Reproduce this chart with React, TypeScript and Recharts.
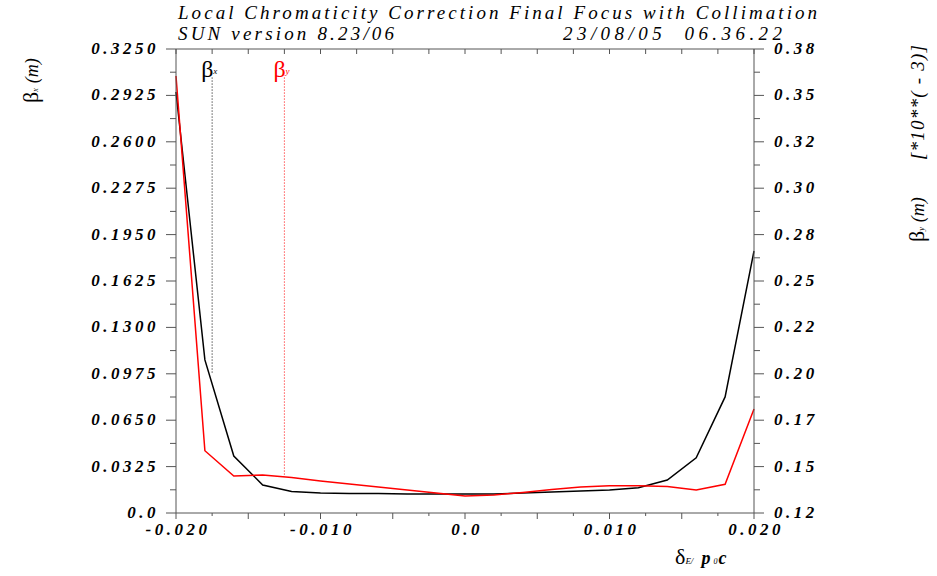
import React from 'react';
import { LineChart, Line, XAxis, YAxis, ReferenceLine } from 'recharts';

// delta E / p0c
const xValues = [
  -0.02, -0.018, -0.016, -0.014, -0.012, -0.01, -0.008, -0.006, -0.004, -0.002, 0,
  0.002, 0.004, 0.006, 0.008, 0.01, 0.012, 0.014, 0.016, 0.018, 0.02,
];
// beta x (m), left axis
const betaX = [
  0.2949, 0.1072, 0.0399, 0.0196, 0.0151, 0.014, 0.0137, 0.0137, 0.0133, 0.0133, 0.0133,
  0.0133, 0.014, 0.0147, 0.0154, 0.0161, 0.0177, 0.0231, 0.0387, 0.0813, 0.1835,
];
// beta y (m) [*10**(-3)], right axis
const betaY = [
  0.3649, 0.1549, 0.1407, 0.1413, 0.1399, 0.1379, 0.1362, 0.1346, 0.1329, 0.1312, 0.1295,
  0.1301, 0.1315, 0.1332, 0.1346, 0.1353, 0.1353, 0.1348, 0.1329, 0.1361, 0.1783,
];

const leftTickLabels = [
  '0.0', '0.0325', '0.0650', '0.0975', '0.1300', '0.1625',
  '0.1950', '0.2275', '0.2600', '0.2925', '0.3250',
];
const rightTickLabels = [
  '0.12', '0.15', '0.17', '0.20', '0.22', '0.25',
  '0.28', '0.30', '0.32', '0.35', '0.38',
];
const xTickLabels = ['-0.020', '-0.010', '0.0', '0.010', '0.020'];

// vertical markers (x position, top, bottom on left axis)
const markerNames = ['x', 'y'];
const markerX = [-0.0175, -0.0125];
const markerTop = [0.305, 0.305];
const markerBottom = [0.098, 0.0254];
const markerColors = ['#000000', '#ff0000'];

const data = xValues.map((x, i) => ({ x, bx: betaX[i], by: betaY[i] }));

const leftTicks = Array.from({ length: 21 }, (_, i) => (i * 0.325) / 20);
const rightTicks = Array.from({ length: 21 }, (_, i) => 0.12 + (i * 0.26) / 20);
const xTicks = Array.from({ length: 17 }, (_, i) => -0.02 + i * 0.0025);

const AXIS = '#555555';
const FONT = '"Liberation Serif", "DejaVu Serif", serif';
const tickFont: React.CSSProperties = {
  fontFamily: FONT,
  fontStyle: 'italic',
  fontWeight: 'bold',
  fontSize: 17,
  letterSpacing: 3.5,
  fill: '#000',
};

const LeftTick = (props: any) => {
  const { x, y, index } = props;
  const major = index % 2 === 0;
  return (
    <g>
      <line x1={x - (major ? 10 : 6)} x2={x} y1={y} y2={y} stroke={AXIS} />
      {major && (
        <text x={x - 17} y={y + 5} textAnchor="end" style={tickFont}>
          {leftTickLabels[index / 2]}
        </text>
      )}
    </g>
  );
};

const RightTick = (props: any) => {
  const { x, y, index } = props;
  const major = index % 2 === 0;
  return (
    <g>
      <line x1={x} x2={x + (major ? 10 : 6)} y1={y} y2={y} stroke={AXIS} />
      {major && (
        <text x={x + 20} y={y + 5} textAnchor="start" style={tickFont}>
          {rightTickLabels[index / 2]}
        </text>
      )}
    </g>
  );
};

const BottomTick = (props: any) => {
  const { x, y, index } = props;
  const major = index % 2 === 0;
  return (
    <g>
      <line x1={x} x2={x} y1={y} y2={y + (major ? 6 : 3)} stroke={AXIS} />
      {index % 4 === 0 && (
        <text x={x + 2} y={y + 22} textAnchor="middle" style={tickFont}>
          {xTickLabels[index / 4]}
        </text>
      )}
    </g>
  );
};

const TopTick = (props: any) => {
  const { x, y } = props;
  return <line x1={x} x2={x} y1={y} y2={y + 5} stroke={AXIS} />;
};

const MarkerLabel = (props: any) => {
  const { viewBox, name, color } = props;
  const vx = viewBox.x;
  const vy = viewBox.y;
  return (
    <text x={vx - 11} y={vy - 1} fill={color} style={{ fontFamily: FONT, fontSize: 24 }}>
      β
      <tspan fontSize={9} fontStyle="italic" dy={-3}>
        {name}
      </tspan>
    </text>
  );
};

const App = () => {
  return (
    <div style={{ position: 'absolute', left: 0, top: 0, width: 937, height: 576, background: '#fff' }}>
      <LineChart
        width={937}
        height={576}
        data={data}
        margin={{ top: 39, right: 0, bottom: 0, left: 0 }}
      >
        <XAxis
          xAxisId="bottom"
          dataKey="x"
          type="number"
          domain={[-0.02, 0.02]}
          ticks={xTicks}
          interval={0}
          height={63}
          tickSize={0}
          tickMargin={0}
          tickLine={false}
          tick={<BottomTick />}
          axisLine={{ stroke: AXIS }}
        />
        <XAxis
          xAxisId="top"
          orientation="top"
          dataKey="x"
          type="number"
          domain={[-0.02, 0.02]}
          ticks={xTicks}
          interval={0}
          height={10}
          tickSize={0}
          tickMargin={0}
          tickLine={false}
          tick={<TopTick />}
          axisLine={{ stroke: AXIS }}
        />
        <YAxis
          yAxisId="left"
          type="number"
          domain={[0, 0.325]}
          ticks={leftTicks}
          interval={0}
          width={176}
          tickSize={0}
          tickMargin={0}
          tickLine={false}
          tick={<LeftTick />}
          axisLine={{ stroke: AXIS }}
        />
        <YAxis
          yAxisId="right"
          orientation="right"
          type="number"
          domain={[0.12, 0.38]}
          ticks={rightTicks}
          interval={0}
          width={183}
          tickSize={0}
          tickMargin={0}
          tickLine={false}
          tick={<RightTick />}
          axisLine={{ stroke: AXIS }}
        />
        {markerX.map((mx, i) => (
          <ReferenceLine
            key={markerNames[i]}
            xAxisId="bottom"
            yAxisId="left"
            segment={[
              { x: mx, y: markerTop[i] },
              { x: mx, y: markerBottom[i] },
            ]}
            stroke={markerColors[i]}
            strokeDasharray="1 2"
            ifOverflow="visible"
            label={(p: any) => <MarkerLabel {...p} name={markerNames[i]} color={markerColors[i]} />}
          />
        ))}
        <Line
          xAxisId="bottom"
          yAxisId="left"
          type="linear"
          dataKey="bx"
          stroke="#000000"
          strokeWidth={1.5}
          dot={false}
          isAnimationActive={false}
        />
        <Line
          xAxisId="bottom"
          yAxisId="right"
          type="linear"
          dataKey="by"
          stroke="#ff0000"
          strokeWidth={1.5}
          dot={false}
          isAnimationActive={false}
        />
      </LineChart>
      <svg
        width={937}
        height={576}
        style={{ position: 'absolute', left: 0, top: 0, pointerEvents: 'none' }}
      >
        <g style={{ fontFamily: FONT, fontStyle: 'italic', fontSize: 19 }} fill="#000">
          <text x={178} y={19} textLength={639} lengthAdjust="spacing">
            Local Chromaticity Correction Final Focus with Collimation
          </text>
          <text x={178} y={40} textLength={216} lengthAdjust="spacing">
            SUN version 8.23/06
          </text>
          <text x={563} y={40} textLength={219} lengthAdjust="spacing">
            {'23/08/05\u00a0\u00a006.36.22'}
          </text>
        </g>
        <text
          transform="translate(38, 103) rotate(-90)"
          style={{ fontFamily: FONT, fontSize: 22 }}
          fill="#000"
        >
          β<tspan fontSize={8} fontStyle="italic">x</tspan>
          <tspan fontSize={18} fontStyle="italic" dx={5}>(m)</tspan>
        </text>
        <text
          transform="translate(924, 242) rotate(-90)"
          style={{ fontFamily: FONT, fontSize: 22 }}
          fill="#000"
        >
          β<tspan fontSize={8} fontStyle="italic">y</tspan>
          <tspan fontSize={18} fontStyle="italic" dx={5}>(m)</tspan>
        </text>
        <text
          transform="translate(924, 160) rotate(-90)"
          style={{ fontFamily: FONT, fontStyle: 'italic', fontSize: 19 }}
          fill="#000"
          textLength={115}
          lengthAdjust="spacing"
        >
          [*10**( - 3)]
        </text>
        <text x={675} y={564} style={{ fontFamily: FONT, fontSize: 22 }} fill="#000">
          δ<tspan fontSize={9} fontStyle="italic">E/</tspan>
          <tspan fontSize={18} fontStyle="italic" fontWeight="bold" dx={8}>p</tspan>
          <tspan fontSize={8} fontStyle="italic" dx={3}>0</tspan>
          <tspan fontSize={18} fontStyle="italic" fontWeight="bold" dx={1}>c</tspan>
        </text>
      </svg>
    </div>
  );
};

export default App;
